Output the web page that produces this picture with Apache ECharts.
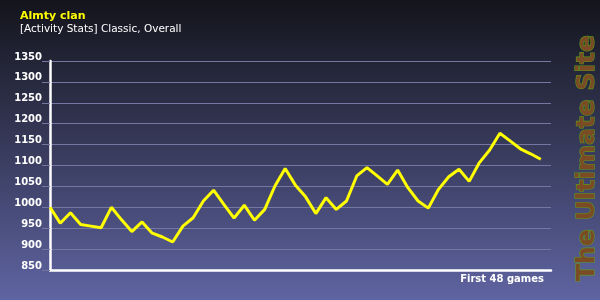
<!DOCTYPE html>
<html><head><meta charset="utf-8">
<script src="https://cdn.jsdelivr.net/npm/echarts@6/dist/echarts.min.js"></script>
<style>html,body{margin:0;padding:0;}#c{width:600px;height:300px;}</style>
</head><body><div id="c"></div>
<script>
var titleText = 'Almty clan';
var subtitleText = '[Activity Stats] Classic, Overall';
var xAxisName = 'First 48 games';
var watermark = 'The Ultimate Site';
var yTicks = [850, 900, 950, 1000, 1050, 1100, 1150, 1200, 1250, 1300, 1350];
var games = [0,1,2,3,4,5,6,7,8,9,10,11,12,13,14,15,16,17,18,19,20,21,22,23,24,25,26,27,28,29,30,31,32,33,34,35,36,37,38,39,40,41,42,43,44,45,46,47,48];
var rating = [1000,962,987,959,955,951,1000,970,942,965,938,929,917,955,975,1015,1041,1007,974,1005,969,995,1051,1093,1053,1025,985,1023,995,1015,1075,1095,1075,1055,1089,1047,1015,998,1043,1073,1091,1062,1107,1137,1177,1159,1140,1128,1115];

var chart = echarts.init(document.getElementById('c'), null, {renderer: 'canvas'});
var font = 'DejaVu Sans';
chart.setOption({
  animation: false,
  backgroundColor: {type: 'linear', x: 0, y: 0, x2: 0, y2: 1, colorStops: [
    {offset: 0, color: '#14141c'}, {offset: 0.5, color: '#383b5c'}, {offset: 1, color: '#5f64a2'}]},
  grid: {left: 50, right: 49, top: 61, bottom: 30},
  xAxis: {type: 'value', min: 0, max: 49,
    axisLine: {show: true, onZero: false, lineStyle: {color: '#ffffff', width: 2.5}},
    axisTick: {show: false}, axisLabel: {show: false}, splitLine: {show: false}},
  yAxis: {type: 'value', min: yTicks[0], max: yTicks[yTicks.length-1], interval: 50,
    axisLine: {show: true, lineStyle: {color: '#ffffff', width: 2.5}},
    axisTick: {show: true, length: 8, lineStyle: {color: '#7477a0', width: 1}},
    axisLabel: {color: '#ffffff', fontFamily: font, fontWeight: 'bold', fontSize: 10, margin: 8,
      verticalAlign: 'bottom', lineHeight: 8,
      formatter: function(v){ return String(v); }},
    splitLine: {show: true, lineStyle: {color: '#7477a0', width: 1}}},
  series: [{type: 'line', data: games.map(function(g, i){ return [g, rating[i]]; }),
    showSymbol: false, symbol: 'none', lineStyle: {color: '#ffff00', width: 3}, z: 5}],
  graphic: [
    {type: 'text', left: 20, top: 11, style: {text: titleText, fill: '#ffff00', font: 'bold 11px "DejaVu Sans"'}},
    {type: 'text', left: 20, top: 24, style: {text: subtitleText, fill: '#ffffff', font: '10.5px "DejaVu Sans"'}},
    {type: 'text', right: 56, top: 274, style: {text: xAxisName, fill: '#ffffff', font: 'bold 10px "DejaVu Sans"'}},
    {type: 'text', x: 587, y: 158, rotation: Math.PI/2, style: {text: watermark, fill: '#7a4b24', stroke: '#5f9a18', lineWidth: 1.2,
      font: 'bold 25px "DejaVu Sans"', align: 'center', verticalAlign: 'middle'}}
  ]
});
</script></body></html>
